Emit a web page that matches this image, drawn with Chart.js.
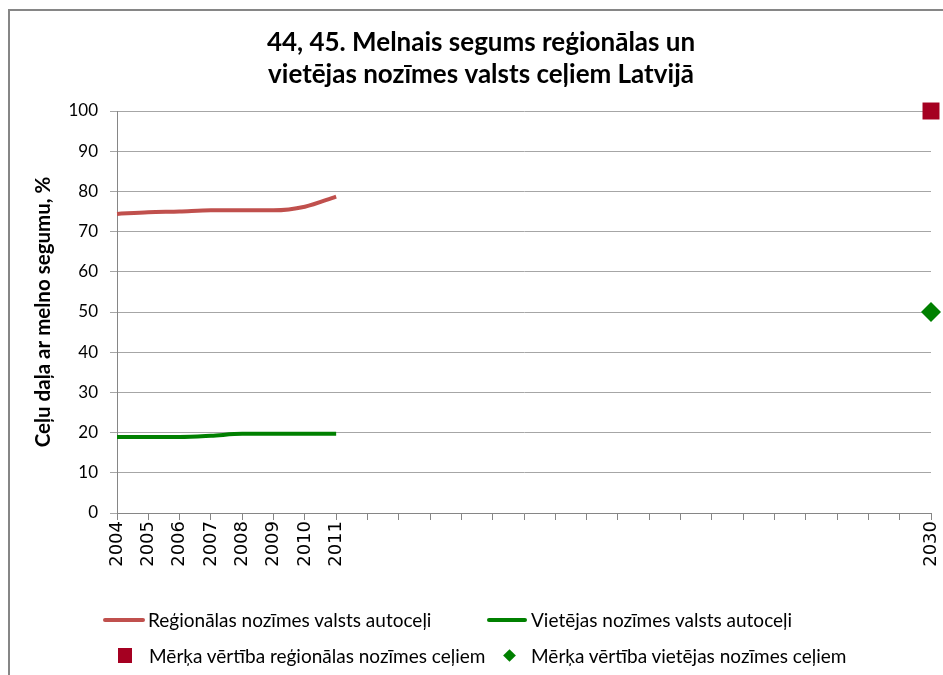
<!DOCTYPE html>
<html lang="lv">
<head>
<meta charset="UTF-8">
<title>Melnais segums reģionālas un vietējas nozīmes valsts ceļiem</title>
<script src="https://cdn.jsdelivr.net/npm/chart.js@4"></script>
<style>
    html, body { margin: 0; padding: 0; background: #fff; overflow: hidden; }
    .wrap { position: relative; width: 943px; height: 675px; overflow: hidden; }
    .frame { position: absolute; left: 8px; top: 9px; width: 1000px; height: 1000px;
             border: 2px solid #868686; box-sizing: border-box; }
    canvas { position: absolute; left: 0; top: 0; }
    .legend { position: absolute; left: 0; top: 0; font-family: Lato, sans-serif; font-size: 19px; color: #000; }
    .item { position: absolute; white-space: nowrap; line-height: 22px; }
    .swatch { position: absolute; }
</style>
</head>
<body>
<div class="wrap">
    <div class="frame"></div>
    <canvas id="chart" width="943" height="675"></canvas>
    <div class="legend">
        <div class="swatch" style="left:103px;top:618px;width:42px;height:4px;background:#c0504d;border-radius:2px"></div>
        <div class="item" style="left:148px;top:609px">Reģionālas nozīmes valsts autoceļi</div>
        <div class="swatch" style="left:487px;top:618px;width:40px;height:4px;background:#008000;border-radius:2px"></div>
        <div class="item" style="left:531px;top:609px">Vietējas nozīmes valsts autoceļi</div>
        <div class="swatch" style="left:118px;top:648px;width:14px;height:15px;background:#a50021"></div>
        <div class="item" style="left:149px;top:645px">Mērķa vērtība reģionālas nozīmes ceļiem</div>
        <div class="swatch" style="left:505px;top:651px;width:9px;height:9px;background:#008000;transform:rotate(45deg)"></div>
        <div class="item" style="left:531px;top:645px">Mērķa vērtība vietējas nozīmes ceļiem</div>
    </div>
</div>
<script>
    // years on the category axis
    const years = ['2004', '2005', '2006', '2007', '2008', '2009', '2010', '2011', '2012', '2013',
                   '2014', '2015', '2016', '2017', '2018', '2019', '2020', '2021', '2022', '2023',
                   '2024', '2025', '2026', '2027', '2028', '2029', '2030'];
    // only these years get a label
    const labelledYears = ['2004', '2005', '2006', '2007', '2008', '2009', '2010', '2011', '2030'];

    // share of roads with black surface, %
    const regionalRoads = [74.4, 74.8, 75.0, 75.3, 75.3, 75.3, 76.2, 78.7];
    const localRoads = [18.9, 18.9, 18.9, 19.2, 19.7, 19.7, 19.7, 19.7];

    // 2030 targets
    const targetYear = '2030';
    const targetRegional = 100;
    const targetLocal = 50;

    Chart.defaults.color = '#000';
    Chart.defaults.font.family = 'Lato, sans-serif';

    new Chart(document.getElementById('chart'), {
        type: 'line',
        data: {
            labels: years,
            datasets: [
                {
                    label: 'Reģionālas nozīmes valsts autoceļi',
                    data: regionalRoads,
                    borderColor: '#c0504d',
                    borderWidth: 4,
                    pointRadius: 0,
                    cubicInterpolationMode: 'monotone'
                },
                {
                    label: 'Vietējas nozīmes valsts autoceļi',
                    data: localRoads,
                    borderColor: '#008000',
                    borderWidth: 4,
                    pointRadius: 0,
                    cubicInterpolationMode: 'monotone'
                },
                {
                    label: 'Mērķa vērtība reģionālas nozīmes ceļiem',
                    data: [{ x: targetYear, y: targetRegional }],
                    showLine: false,
                    pointStyle: 'rect',
                    pointRadius: 12,
                    backgroundColor: '#a50021',
                    borderColor: '#a50021',
                    borderWidth: 0,
                    clip: false
                },
                {
                    label: 'Mērķa vērtība vietējas nozīmes ceļiem',
                    data: [{ x: targetYear, y: targetLocal }],
                    showLine: false,
                    pointStyle: 'rectRot',
                    pointRadius: 10,
                    backgroundColor: '#008000',
                    borderColor: '#008000',
                    borderWidth: 0,
                    clip: false
                }
            ]
        },
        options: {
            responsive: false,
            animation: false,
            layout: { padding: { left: 31, right: 12, top: 27, bottom: 102 } },
            plugins: {
                legend: { display: false },
                tooltip: { enabled: false },
                title: {
                    display: true,
                    text: ['44, 45. Melnais segums reģionālas un', 'vietējas nozīmes valsts ceļiem Latvijā'],
                    font: { size: 26, weight: 'bold', lineHeight: 1.2308 },
                    padding: { top: 0, bottom: 20 }
                }
            },
            scales: {
                x: {
                    offset: false,
                    border: { color: '#868686', width: 1 },
                    grid: { drawOnChartArea: false, tickLength: 7, color: '#868686' },
                    ticks: {
                        autoSkip: false,
                        minRotation: 90,
                        maxRotation: 90,
                        padding: 1,
                        font: { family: 'DejaVu Sans', size: 18 },
                        callback: function (v, i) {
                            const y = years[i];
                            return labelledYears.includes(y) ? y : '';
                        }
                    },
                    afterFit: function (scale) {
                        scale.height = 60;
                        scale.paddingLeft = 0;
                        scale.paddingRight = 0;
                    }
                },
                y: {
                    min: 0,
                    max: 100,
                    border: { color: '#868686', width: 1 },
                    grid: { color: '#a6a6a6', tickLength: 7 },
                    ticks: { stepSize: 10, padding: 12, font: { size: 17 } },
                    title: {
                        display: true,
                        text: 'Ceļu daļa ar melno segumu, %',
                        font: { size: 20.5, weight: 'bold' },
                        padding: 0
                    },
                    afterFit: function (scale) { scale.width = 86; }
                }
            }
        }
    });
</script>
</body>
</html>
